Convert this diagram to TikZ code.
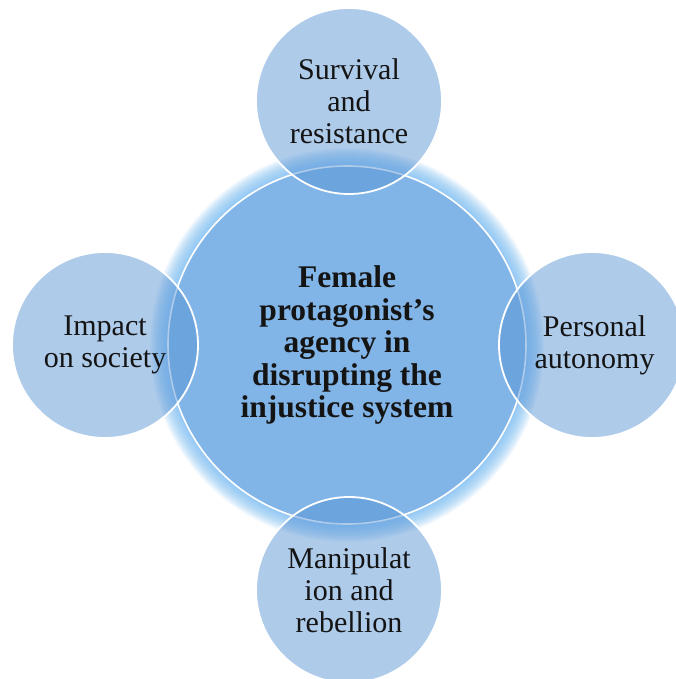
\documentclass[tikz,border=0pt]{standalone}
\usepackage{fontspec}
\setmainfont{Liberation Serif}
\definecolor{mainfill}{RGB}{130,181,231}
\definecolor{satfill}{RGB}{84,145,211}
\definecolor{glowc}{RGB}{120,190,245}
\definecolor{txt}{RGB}{20,20,20}
\tikzset{
  mainc/.style={circle, fill=mainfill, draw=white, line width=1.6pt, minimum size=358pt, inner sep=0pt,
    font=\fontsize{31.5}{32.5}\selectfont\bfseries, text=txt, align=center},
  satc/.style={circle, fill=satfill, fill opacity=0.47, text opacity=1, draw=white, draw opacity=1,
    line width=1.8pt, minimum size=186pt, inner sep=0pt,
    font=\fontsize{30}{32}\selectfont, text=txt, align=center},
}
\begin{document}
\begin{tikzpicture}[x=1pt,y=-1pt]
\useasboundingbox (0,0) rectangle (676,679);
\clip (0,0) rectangle (676,679);
\fill[white] (0,0) rectangle (676,679);
% glow
\foreach \i in {1,...,18}{
  \fill[glowc, opacity=0.075] (347,345) circle ({179+\i});
}
\node[mainc] (center) at (347,345) {Female\\protagonist’s\\agency in\\disrupting the\\injustice system};
\node[satc] (top) at (349,101) {Survival\\and\\resistance};
\node[satc] (right) at (592,345) {\hspace*{5pt}Personal\\\hspace*{5pt}autonomy};
\node[satc] (bottom) at (349,590) {Manipulat\\ion and\\rebellion};
\node[satc] (left) at (105,345) {Impact\\on society};
\end{tikzpicture}
\end{document}
